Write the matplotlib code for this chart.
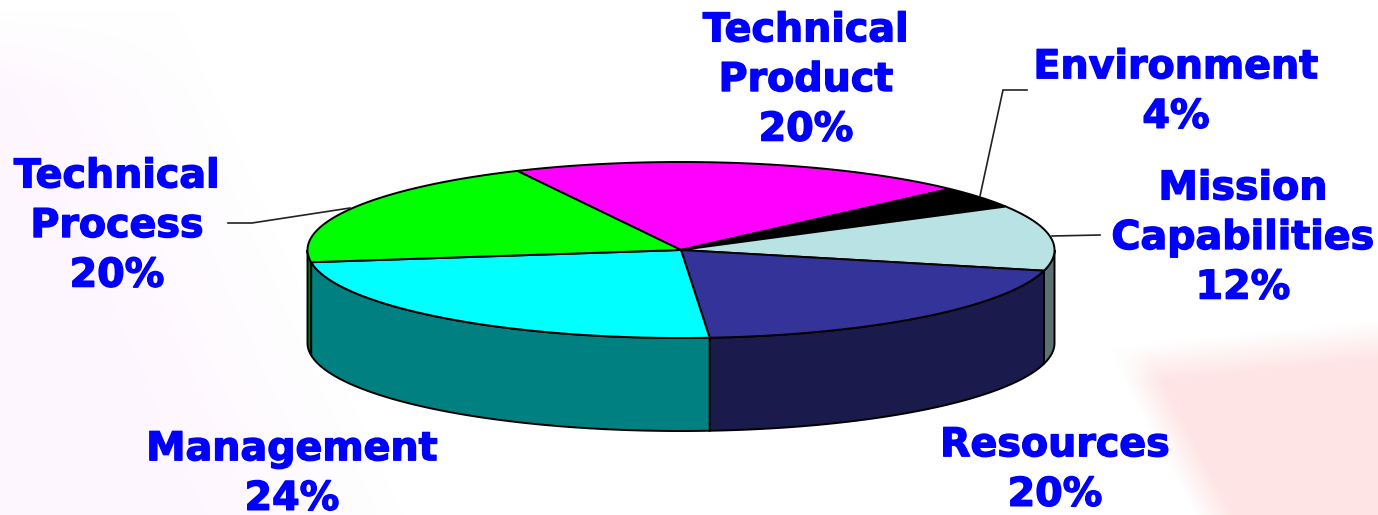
import numpy as np
import matplotlib
matplotlib.use("Agg")
import matplotlib.pyplot as plt
import matplotlib.patheffects as pe

categories = ["Technical\nProduct", "Environment", "Mission\nCapabilities", "Resources", "Management", "Technical\nProcess"]
values = [20, 4, 12, 20, 24, 20]
top_colors = ["#ff00ff", "#000000", "#b8e2e4", "#333399", "#00ffff", "#00ff00"]
side_colors = ["#800080", "#000000", "#5c7172", "#1a1a4d", "#008080", "#008000"]

W, H = 1378, 515
CX, CY, RX, RY, DEPTH = 681, 250, 373.5, 88, 93
START = 116

fig = plt.figure(figsize=(W / 100, H / 100), dpi=100)
ax = fig.add_axes([0, 0, 1, 1])
ax.set_xlim(0, W)
ax.set_ylim(H, 0)
ax.axis("off")

# Soft background
yy, xx = np.mgrid[0:H, 0:W]
def step(d, w):
    return np.clip(d / w + 0.5, 0, 1)
peach = step(xx - (1135 + (yy - 365) * 0.533), 40) * step(yy - (365 - (xx - 1130) * 0.1), 40)
lav = step((70 + (yy - 20) * 0.45) - xx, 220) * step(yy - 50, 80)
img = np.ones((H, W, 3))
for c, m in (((254 / 255, 228 / 255, 228 / 255), peach), ((254 / 255, 246 / 255, 254 / 255), lav)):
    for i in range(3):
        img[..., i] = img[..., i] * (1 - m) + c[i] * m
ax.imshow(img, extent=(0, W, H, 0), aspect="auto", zorder=0)

def pt(theta):
    t = np.radians(theta)
    return CX + RX * np.cos(t), CY - RY * np.sin(t)

edges = START - np.cumsum([0] + values) * 3.6

# Walls: only the front half of the rim (180..360 degrees) can be seen
for i in range(len(values)):
    a0, a1 = edges[i + 1] % 360, edges[i] % 360
    if a1 <= a0:
        a1 += 360
    for lo, hi in ((max(a0, 180), min(a1, 360)), (max(a0, 540), min(a1, 720))):
        if hi > lo:
            th = np.linspace(lo, hi, 80)
            x, y = pt(th)
            ax.fill(np.r_[x, x[::-1]], np.r_[y, y[::-1] + DEPTH], facecolor=side_colors[i],
                    edgecolor="black", linewidth=1.4, zorder=2)

# Top faces
for i in range(len(values)):
    th = np.linspace(edges[i], edges[i + 1], 100)
    x, y = pt(th)
    ax.fill(np.r_[CX, x], np.r_[CY, y], facecolor=top_colors[i], edgecolor="black",
            linewidth=1.4, zorder=3)

# Leader lines
for lx, ly in (([1027, 1003, 980], [90, 90, 196]),
               ([1100, 1052], [235, 236]),
               ([228, 252, 350], [223, 223, 208])):
    ax.plot(lx, ly, color="#222222", linewidth=1.2, zorder=4, solid_joinstyle="miter")

# Labels
positions = [(806, 80), (1176, 92), (1243, 238), (1055, 470), (292, 474), (117, 226)]
for name, v, (tx, ty) in zip(categories, values, positions):
    ax.text(tx, ty, f"{name}\n{v}%", ha="center", va="center", color="#0000ff",
            fontsize=28.5, fontweight="bold", family="DejaVu Sans", linespacing=1.31, zorder=5,
            path_effects=[pe.withStroke(linewidth=1.0, foreground="#0000ff")])

fig.savefig("out.png", dpi=100)
